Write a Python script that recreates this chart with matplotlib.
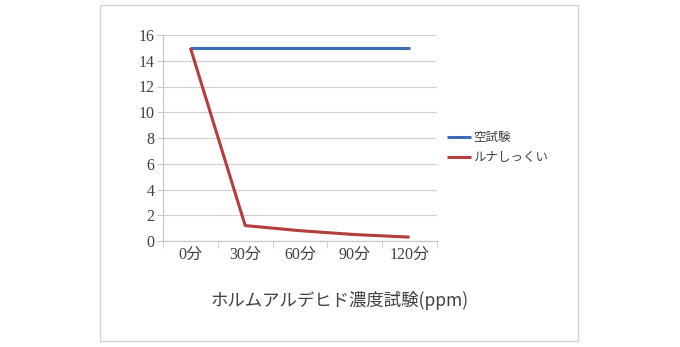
import matplotlib
matplotlib.use("Agg")
import matplotlib.pyplot as plt
from matplotlib.patches import Rectangle

categories = ["0分", "30分", "60分", "90分", "120分"]
blank_test = [15, 15, 15, 15, 15]
luna = [15, 1.2, 0.8, 0.5, 0.3]
series_names = ["空試験", "ルナしっくい"]
title = "ホルムアルデヒド濃度試験(ppm)"
yticks = [0, 2, 4, 6, 8, 10, 12, 14, 16]

tick_font = ["Liberation Serif", "Noto Sans CJK JP"]
jp_font = ["Noto Sans CJK JP", "DejaVu Sans"]

fig = plt.figure(figsize=(6.8, 3.47), dpi=100)
fig.patch.set_facecolor("white")
fig.add_artist(Rectangle((100/680, 1-341/347), 478/680, 336/347,
                         transform=fig.transFigure, fill=False,
                         edgecolor="#d4d4d4", lw=1.0))

ax = fig.add_axes([163/680, 1-241/347, 274/680, 206/347])
x = list(range(len(categories)))
ax.plot(x, blank_test, color="#3c6cb4", lw=2.2, label=series_names[0], solid_capstyle="butt")
ax.plot(x, luna, color="#b53d3a", lw=2.2, label=series_names[1], solid_capstyle="butt")

ax.set_xlim(-0.5, len(categories) - 0.5)
ax.set_ylim(0, 16)
ax.set_yticks(yticks)
ax.set_yticklabels([str(v) for v in yticks], family=tick_font, fontsize=11.5, color="#404040")
ax.set_xticks(x)
ax.set_xticklabels(categories, family=tick_font, fontsize=11.5, color="#404040")
ax.tick_params(axis="x", length=0, pad=5)
ax.tick_params(axis="y", length=4, color="#c8c8c8", pad=2)
# category boundary ticks
ax.set_xticks([i - 0.5 for i in range(len(categories) + 1)], minor=True)
ax.tick_params(axis="x", which="minor", length=5, color="#c8c8c8")

ax.grid(axis="y", color="#d0d0d0", lw=0.9)
ax.set_axisbelow(True)
for s in ["top", "right"]:
    ax.spines[s].set_visible(False)
for s in ["left", "bottom"]:
    ax.spines[s].set_color("#c8c8c8")
    ax.spines[s].set_linewidth(0.9)

leg = ax.legend(loc="upper left", bbox_to_anchor=(442/680, 1-126/347),
                bbox_transform=fig.transFigure, frameon=False,
                prop={"family": jp_font, "size": 9}, handlelength=1.9,
                handletextpad=0.2, labelspacing=0.6, borderaxespad=0)
for t in leg.get_texts():
    t.set_color("#404040")

fig.text(340/680, 1-300/347, title, ha="center", va="center",
         family=jp_font, fontsize=12.5, color="#404040")

fig.savefig("out.png", dpi=100)
